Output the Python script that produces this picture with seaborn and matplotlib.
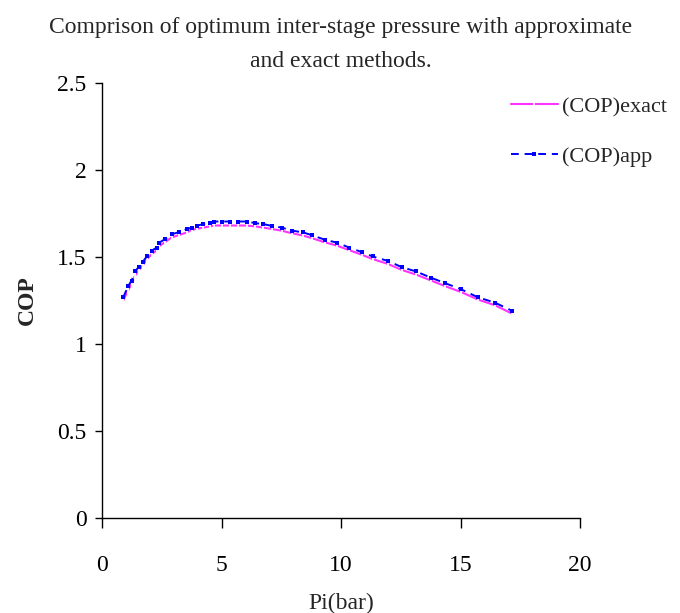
import numpy as np
import pandas as pd
import seaborn as sns
import matplotlib.pyplot as plt

# inter-stage pressure (bar)
pi_bar = [0.89, 1.10, 1.24, 1.38, 1.55, 1.70, 1.87, 2.08, 2.29, 2.40, 2.64, 2.92,
          3.22, 3.54, 3.75, 3.99, 4.24, 4.52, 4.69, 5.01, 5.36, 5.70, 6.05, 6.40,
          6.75, 7.10, 7.52, 7.94, 8.42, 8.77, 9.33, 9.82, 10.35, 10.87, 11.33,
          11.95, 12.54, 13.14, 13.75, 14.35, 15.02, 15.72, 16.44, 17.14]

cop_app = [1.268, 1.333, 1.364, 1.416, 1.444, 1.469, 1.502, 1.536, 1.553, 1.582,
           1.602, 1.630, 1.642, 1.659, 1.668, 1.680, 1.688, 1.694, 1.703, 1.703,
           1.703, 1.703, 1.703, 1.694, 1.688, 1.678, 1.668, 1.651, 1.640, 1.625,
           1.598, 1.582, 1.553, 1.527, 1.502, 1.477, 1.441, 1.416, 1.381, 1.349,
           1.314, 1.268, 1.237, 1.191]

cop_exact = [1.250, 1.310, 1.345, 1.392, 1.425, 1.450, 1.485, 1.515, 1.538, 1.562,
             1.585, 1.612, 1.625, 1.640, 1.655, 1.662, 1.668, 1.675, 1.680, 1.680,
             1.680, 1.680, 1.680, 1.675, 1.668, 1.660, 1.650, 1.636, 1.622, 1.608,
             1.583, 1.565, 1.538, 1.512, 1.487, 1.460, 1.425, 1.398, 1.365, 1.332,
             1.298, 1.255, 1.222, 1.175]

x_ticks = [0, 5, 10, 15, 20]
y_ticks = [0, 0.5, 1, 1.5, 2, 2.5]
y_tick_labels = ['0', '0.5', '1', '1.5', '2', '2.5']

sns.set_style("ticks")
plt.rcParams['font.family'] = ['Liberation Serif', 'DejaVu Serif']

fig = plt.figure(figsize=(6.8, 6.13), dpi=100)
ax = fig.add_axes([0.15, 0.155, 0.703, 0.71])

sns.lineplot(x=pi_bar, y=cop_exact, ax=ax, color='#ff33ff', lw=1.5,
             marker='|', markersize=6, markeredgewidth=1.3, label='(COP)exact')
sns.lineplot(x=pi_bar, y=cop_app, ax=ax, color='#0000ff', lw=1.4,
             linestyle=(0, (4, 3)), marker='s', markersize=3.5, markeredgewidth=0,
             label='(COP)app')

ax.set_xlim(0, 20)
ax.set_ylim(0, 2.5)
ax.set_xticks(x_ticks)
ax.set_yticks(y_ticks)
ax.set_yticklabels(y_tick_labels)
ax.tick_params(axis='x', direction='out', length=7, width=1, pad=20, labelsize=17, colors='black')
ax.tick_params(axis='y', direction='out', length=5, width=1, pad=6, labelsize=17, colors='black')
for s in ['top', 'right']:
    ax.spines[s].set_visible(False)
for s in ['left', 'bottom']:
    ax.spines[s].set_color('black')
    ax.spines[s].set_linewidth(1)

ax.set_xlabel('Pi(bar)', fontsize=17, labelpad=12)
ax.set_ylabel('COP', fontsize=17, fontweight='bold', labelpad=14)
ax.set_title('Comprison of optimum inter-stage pressure with approximate\nand exact methods.',
             fontsize=17, pad=11, linespacing=1.85)

ax.legend(loc='upper left', bbox_to_anchor=(0.722, 0.875), bbox_transform=fig.transFigure,
          frameon=False, fontsize=16, handlelength=2.1, handletextpad=0.2,
          labelspacing=1.3)

plt.savefig('out.png', dpi=100)
